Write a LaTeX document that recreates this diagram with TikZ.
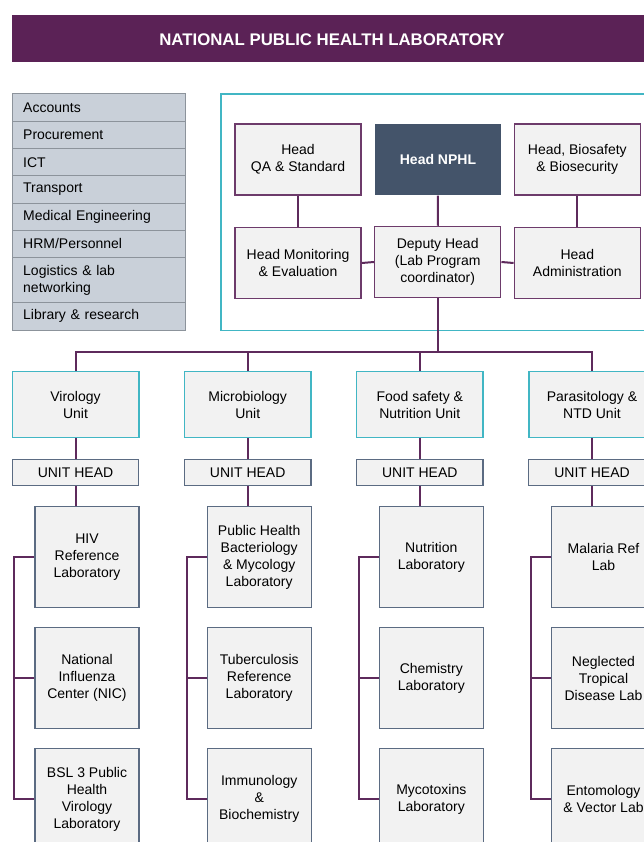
\documentclass[tikz,border=0pt]{standalone}
\usepackage{fontspec}
\setmainfont{Liberation Sans}
\usetikzlibrary{calc}
\definecolor{titlepurple}{HTML}{5B2256}
\definecolor{linepurple}{HTML}{5E2A5C}
\definecolor{boxpurple}{HTML}{6D3B6B}
\definecolor{tealc}{HTML}{41B6C4}
\definecolor{listfill}{HTML}{C9D0D9}
\definecolor{listborder}{HTML}{8C939B}
\definecolor{labborder}{HTML}{5B6B82}
\definecolor{boxfill}{HTML}{F2F2F2}
\definecolor{nphlfill}{HTML}{44546A}
\begin{document}
\begin{tikzpicture}[x=1pt,y=-1pt,
  every node/.style={font=\fontsize{14}{17}\selectfont, inner sep=0pt},
  listrow/.style={draw=listborder, line width=1pt, fill=listfill, minimum width=173, text width=152.2, align=left, inner xsep=10.4, anchor=north west},
  topbox/.style={draw=boxpurple, line width=1.5pt, fill=boxfill, minimum width=126, minimum height=70.7, align=center},
  unitbox/.style={draw=tealc, line width=1.5pt, fill=boxfill, minimum width=126.5, minimum height=66, align=center},
  uhbox/.style={draw=labborder, line width=1.3pt, fill=boxfill, minimum width=126.5, minimum height=26.4, align=center},
  labbox/.style={draw=labborder, line width=1.3pt, fill=boxfill, minimum width=104, minimum height=100.6, align=center},
  conn/.style={draw=linepurple, line width=2pt},
]
\useasboundingbox (0,0) rectangle (644,842);
\clip (0,0) rectangle (644,842);
\fill[white] (0,0) rectangle (644,842);
% title
\node[fill=titlepurple, minimum width=650, minimum height=47, anchor=north west] (title) at (11.5,15) {};
\node[font=\fontsize{16.8}{20}\selectfont\bfseries, text=white] (titletext) at (332,40) {NATIONAL PUBLIC HEALTH LABORATORY};
% left list
\node[listrow, minimum height=27.5] (l1) at (12.3,93.5) {Accounts};
\node[listrow, minimum height=27.2] (l2) at (12.3,121) {Procurement};
\node[listrow, minimum height=27.2] (l3) at (12.3,148.2) {ICT};
\node[listrow, minimum height=27.2] (l4) at (12.3,175.4) {Transport};
\node[listrow, minimum height=27.2] (l5) at (12.3,202.6) {Medical Engineering};
\node[listrow, minimum height=27.2] (l6) at (12.3,229.8) {HRM/Personnel};
\node[listrow, minimum height=45] (l7) at (12.3,257) {Logistics \& lab\\networking};
\node[listrow, minimum height=27.5] (l8) at (12.3,302) {Library \& research};
% teal frame
\node[draw=tealc, line width=1.3pt, minimum width=440, minimum height=236, anchor=north west] (frame) at (220.3,93.5) {};
% top boxes
\node[topbox] (qa) at (298,159.6) {Head\\QA \& Standard};
\node[topbox, draw=none, fill=nphlfill, text=white, font=\fontsize{14}{17}\selectfont\bfseries] (nphl) at (438,159.6) {Head NPHL};
\node[topbox] (bio) at (577.3,159.6) {Head, Biosafety\\\& Biosecurity};
\node[topbox] (me) at (298,263) {Head Monitoring\\\& Evaluation};
\node[topbox, minimum height=71] (dep) at (437.7,262) {Deputy Head\\(Lab Program\\coordinator)};
\node[topbox] (adm) at (577.3,263) {Head\\Administration};
\draw[conn] (qa) -- (me);
\draw[conn] (nphl) -- (dep);
\draw[conn] (bio) -- (adm);
\draw[conn] (me.east) -- (dep.west);
\draw[conn] (dep.east) -- (adm.west);
% units
\node[unitbox] (u1) at (75.5,404.7) {Virology\\Unit};
\node[unitbox] (u2) at (247.7,404.7) {Microbiology\\Unit};
\node[unitbox] (u3) at (419.8,404.7) {Food safety \&\\Nutrition Unit};
\node[unitbox] (u4) at (592,404.7) {Parasitology \&\\NTD Unit};
\coordinate (bus) at (437.7,351.7);
\draw[conn] (dep.south) -- (bus);
\draw[conn] (u1.north) |- (bus) -| (u4.north);
\draw[conn] (u2.north) -- (u2.north |- bus);
\draw[conn] (u3.north) -- (u3.north |- bus);
% unit heads
\foreach \i in {1,2,3,4}{
  \node[uhbox] (h\i) at ($(u\i)+(0,67.8)$) {UNIT HEAD};
  \draw[conn] (u\i.south) -- (h\i.north);
}
% labs
\node[labbox] (a1) at (87,557) {HIV\\Reference\\Laboratory};
\node[labbox] (a2) at (87,678) {National\\Influenza\\Center (NIC)};
\node[labbox] (a3) at (87,799) {BSL 3 Public\\Health\\Virology\\Laboratory};
\node[labbox] (b1) at (259.2,557) {Public Health\\Bacteriology\\\& Mycology\\Laboratory};
\node[labbox] (b2) at (259.2,678) {Tuberculosis\\Reference\\Laboratory};
\node[labbox] (b3) at (259.2,799) {Immunology\\\&\\Biochemistry};
\node[labbox] (c1) at (431.3,557) {Nutrition\\Laboratory};
\node[labbox] (c2) at (431.3,678) {Chemistry\\Laboratory};
\node[labbox] (c3) at (431.3,799) {Mycotoxins\\Laboratory};
\node[labbox] (d1) at (603.5,557) {Malaria Ref\\Lab};
\node[labbox] (d2) at (603.5,678) {Neglected\\Tropical\\Disease Lab};
\node[labbox] (d3) at (603.5,799) {Entomology\\\& Vector Lab};
\draw[conn] (h1.south) -- (h1.south |- a1.north);
\draw[conn] (h2.south) -- (h2.south |- b1.north);
\draw[conn] (h3.south) -- (h3.south |- c1.north);
\draw[conn] (h4.south) -- (h4.south |- d1.north);
\foreach \c in {a,b,c,d}{
  \draw[conn] (\c1.west) -- ++(-20,0) |- (\c3.west);
  \draw[conn] (\c2.west) -- ++(-20,0);
}
\end{tikzpicture}
\end{document}
